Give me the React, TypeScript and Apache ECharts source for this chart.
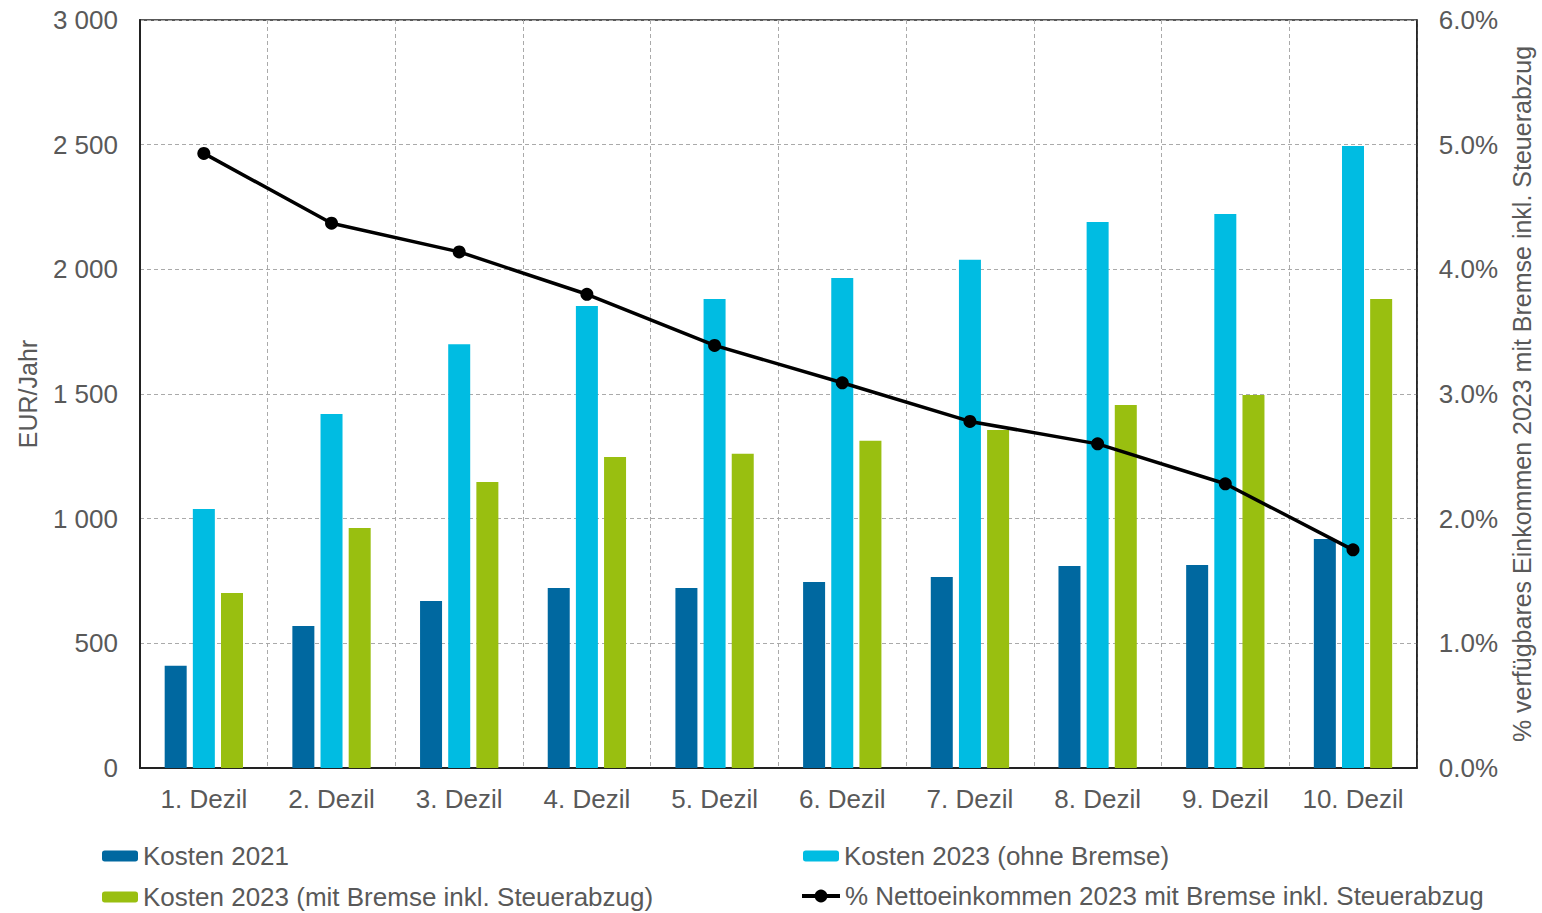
import React, { useEffect, useRef } from "react";
import * as echarts from "echarts";

const categories = ["1. Dezil", "2. Dezil", "3. Dezil", "4. Dezil", "5. Dezil", "6. Dezil", "7. Dezil", "8. Dezil", "9. Dezil", "10. Dezil"];
const kosten2021 = [410, 570, 670, 722, 722, 746, 766, 810, 814, 918];
const kosten2023ohne = [1039, 1420, 1700, 1853, 1881, 1965, 2038, 2190, 2222, 2495];
const kosten2023mit = [702, 963, 1147, 1247, 1260, 1312, 1356, 1456, 1496, 1881];
const anteilNetto = [4.93, 4.37, 4.14, 3.8, 3.39, 3.09, 2.78, 2.6, 2.28, 1.75];

const leftTicks = { min: 0, max: 3000, interval: 500 };
const rightTicks = { min: 0, max: 6, interval: 1 };

const names = {
  s1: "Kosten 2021",
  s2: "Kosten 2023 (ohne Bremse)",
  s3: "Kosten 2023 (mit Bremse inkl. Steuerabzug)",
  s4: "% Nettoeinkommen 2023 mit Bremse inkl. Steuerabzug",
};

const TXT = "#595959";
const FONT = "Liberation Sans, Arial, sans-serif";

export default function App() {
  const ref = useRef<HTMLDivElement>(null);
  useEffect(() => {
    if (!ref.current) return;
    const chart = echarts.init(ref.current, null, { renderer: "svg" });
    const legendBase = {
      orient: "horizontal",
      itemWidth: 36,
      itemHeight: 11,
      itemGap: 10,
      itemTextGap: 5,
      padding: 0,
      textStyle: { color: TXT, fontSize: 26, fontFamily: FONT },
      selectedMode: false,
    };
    chart.setOption({
      animation: false,
      textStyle: { fontFamily: FONT },
      grid: {
        left: 140,
        right: 114,
        top: 20,
        bottom: 145,
        show: true,
        borderColor: "#222",
        borderWidth: 1.5,
        backgroundColor: "transparent",
      },
      legend: [
        { ...legendBase, left: 102, top: 843, data: [names.s1] },
        { ...legendBase, left: 803, top: 843, data: [names.s2] },
        { ...legendBase, left: 102, top: 884, data: [names.s3] },
        {
          ...legendBase,
          left: 800,
          top: 883,
          data: [names.s4],
          itemWidth: 38,
          itemHeight: 16,
          itemTextGap: 4,
          lineStyle: { width: 4, color: "#000" },
        },
      ],
      xAxis: {
        type: "category",
        data: categories,
        axisLine: { lineStyle: { color: "#222", width: 2 } },
        axisTick: { show: false },
        axisLabel: { color: TXT, fontSize: 26, fontFamily: FONT, margin: 18, interval: 0 },
        splitLine: { show: true, interval: 0, lineStyle: { color: "#aaaaaa", type: [4, 3], width: 1 } },
      },
      yAxis: [
        {
          type: "value",
          ...leftTicks,
          name: "EUR/Jahr",
          nameLocation: "middle",
          nameRotate: 90,
          nameGap: 100,
          nameTextStyle: { color: TXT, fontSize: 25, fontFamily: FONT },
          axisLine: { show: true, lineStyle: { color: "#222", width: 2 } },
          axisTick: { show: false },
          axisLabel: {
            color: TXT,
            fontSize: 26,
            fontFamily: FONT,
            margin: 22,
            formatter: (v: number) => (v >= 1000 ? Math.floor(v / 1000) + " " + String(v % 1000).padStart(3, "0") : String(v)),
          },
          splitLine: { show: true, lineStyle: { color: "#aaaaaa", type: [4, 3], width: 1 } },
        },
        {
          type: "value",
          ...rightTicks,
          position: "right",
          name: "% verfügbares Einkommen 2023 mit Bremse inkl. Steuerabzug",
          nameLocation: "middle",
          nameRotate: 90,
          nameGap: 91,
          nameTextStyle: { color: TXT, fontSize: 25, fontFamily: FONT },
          axisLine: { show: true, lineStyle: { color: "#222", width: 1.5 } },
          axisTick: { show: false },
          axisLabel: {
            color: TXT,
            fontSize: 26,
            fontFamily: FONT,
            margin: 22,
            formatter: (v: number) => v.toFixed(1) + "%",
          },
          splitLine: { show: false },
        },
      ],
      series: [
        {
          name: names.s1,
          type: "bar",
          data: kosten2021,
          barWidth: 22,
          barGap: "28%",
          itemStyle: { color: "#0068A0" },
        },
        {
          name: names.s2,
          type: "bar",
          data: kosten2023ohne,
          barWidth: 22,
          barGap: "28%",
          itemStyle: { color: "#00BCE2" },
        },
        {
          name: names.s3,
          type: "bar",
          data: kosten2023mit,
          barWidth: 22,
          barGap: "28%",
          itemStyle: { color: "#99BF10" },
        },
        {
          name: names.s4,
          type: "line",
          yAxisIndex: 1,
          data: anteilNetto,
          symbol: "circle",
          symbolSize: 13,
          itemStyle: { color: "#000" },
          lineStyle: { color: "#000", width: 3.5 },
          z: 5,
        },
      ],
    });
    return () => chart.dispose();
  }, []);
  return <div ref={ref} style={{ width: 1542, height: 913, position: "absolute", left: 0, top: 0 }} />;
}
